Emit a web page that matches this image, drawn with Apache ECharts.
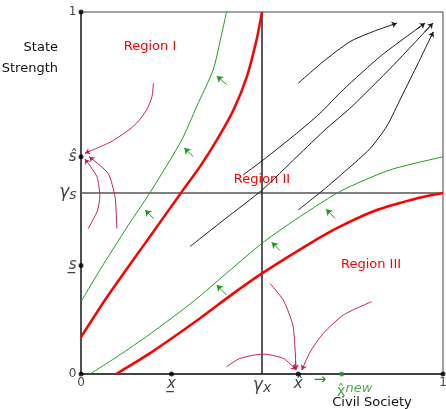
<!DOCTYPE html>
<html><head><meta charset="utf-8">
<script src="https://cdn.jsdelivr.net/npm/echarts@6/dist/echarts.min.js"></script>
<style>html,body{margin:0;padding:0;background:#fff}#c{width:446px;height:409px}</style>
</head><body><div id="c"></div>
<script>
// ---- data (unit square: x = civil society, y = state strength) ----
const redUpper = [[0,0.102],[0.07,0.21],[0.144,0.315],[0.19,0.379],[0.276,0.5],[0.33,0.575],[0.375,0.646],[0.421,0.729],[0.458,0.821],[0.485,0.923],[0.5,1]];
const redLower = [[0.097,0],[0.19,0.057],[0.329,0.154],[0.42,0.222],[0.5,0.278],[0.633,0.361],[0.715,0.407],[0.817,0.453],[0.927,0.485],[1,0.5]];
const greenUpper = [[0,0.2],[0.052,0.287],[0.13,0.41],[0.19,0.5],[0.278,0.646],[0.32,0.74],[0.365,0.84],[0.389,0.941],[0.402,1]];
const greenLower = [[0.025,0],[0.1,0.048],[0.19,0.11],[0.31,0.2],[0.412,0.287],[0.5,0.361],[0.577,0.416],[0.715,0.504],[0.854,0.564],[1,0.6]];
const blackA = [[0.6,0.803],[0.669,0.863],[0.743,0.918],[0.807,0.946],[0.872,0.969]];
const blackB = [[0.448,0.55],[0.503,0.591],[0.596,0.665],[0.66,0.72],[0.724,0.785],[0.83,0.88],[0.95,0.969]];
const blackC = [[0.301,0.352],[0.4,0.43],[0.5,0.508],[0.596,0.6],[0.679,0.679],[0.743,0.734],[0.86,0.85],[0.972,0.969]];
const blackD = [[0.6,0.453],[0.669,0.508],[0.734,0.564],[0.798,0.622],[0.845,0.685],[0.885,0.765],[0.932,0.86],[0.973,0.945]];
const purple1 = [[0.2,0.803],[0.196,0.766],[0.181,0.729],[0.153,0.692],[0.125,0.669],[0.08,0.64],[0.011,0.61]];
const purple2 = [[0.02,0.402],[0.045,0.45],[0.052,0.49],[0.044,0.545],[0.011,0.594]];
const purple3 = [[0.099,0.402],[0.097,0.45],[0.094,0.49],[0.075,0.554],[0.023,0.6]];
const purple4 = [[0.522,0.25],[0.559,0.204],[0.586,0.131],[0.594,0.012]];
const purple5 = [[0.402,0.02],[0.439,0.043],[0.503,0.055],[0.559,0.043],[0.594,0.012]];
const purple6 = [[0.803,0.2],[0.725,0.163],[0.669,0.112],[0.633,0.061],[0.61,0.011]];
const greenArrows = [[0.402,0.8,0.375,0.823],[0.31,0.601,0.285,0.624],[0.2,0.43,0.177,0.453],[0.402,0.218,0.375,0.246],[0.55,0.341,0.527,0.364],[0.702,0.43,0.677,0.455]];
const gammaX = 0.5, gammaS = 0.5;
const yTickValues = [1, 0.6, 0.5, 0.3, 0];
const yTickTexts  = ['1', '\u015D', '{g|\u03B3}{s|s}', 's\u0332', '0'];
const xTickValues = [0, 0.25, 0.5, 0.6, 1];
const xTickTexts  = ['0', 'x\u0332', '{g|\u03B3}{s|x}', 'x\u0302', '1'];
const dotYValues = [1, 0.6, 0.3, 0];
const dotXValues = [0.25, 0.6, 1];
const xNewValue = 0.72;

// ---- styling ----
const FONT = 'DejaVu Sans';
const RED = '#ff0000', GREEN = '#1f9a1f', BLACK = '#1a1a1a', PURPLE = '#c81d5c';
const rich = {
  g: {fontFamily: FONT, fontSize: 17, fontStyle: 'italic', color: '#111'},
  s: {fontFamily: FONT, fontSize: 14, fontStyle: 'italic', color: '#111', padding: [5,0,0,0]}
};
function endArrow(pts) {
  const p = pts[pts.length-1], q = pts[pts.length-2];
  const a = [p[0] - 0.2*(p[0]-q[0]), p[1] - 0.2*(p[1]-q[1])];
  return [{coord: a}, {coord: p}];
}
function curve(pts, color, width, arrow, z) {
  const s = {
    type: 'line', data: pts, smooth: 0.22, showSymbol: false, symbol: 'none',
    lineStyle: {color: color, width: width}, silent: true, animation: false, z: z || 3
  };
  if (arrow) {
    s.markLine = {
      silent: true, animation: false, symbol: ['none','arrow'], symbolSize: 5,
      label: {show: false}, lineStyle: {color: color, width: width, type: 'solid'},
      data: [endArrow(pts)]
    };
  }
  return s;
}
function labelItem(v, txt, pos) {
  const small = txt === '0' || txt === '1';
  return {
    value: v,
    label: {
      show: true, position: pos, distance: pos === 'left' ? 4 : 2,
      formatter: txt, rich: rich, fontFamily: FONT,
      fontSize: small ? 12 : 15, fontStyle: small ? 'normal' : 'italic', color: '#111'
    }
  };
}

const series = [
  {type:'line', data:[[0,gammaS],[1,gammaS]], showSymbol:false, lineStyle:{color:'#555',width:1.5}, silent:true, animation:false, z:2},
  {type:'line', data:[[gammaX,0],[gammaX,1]], showSymbol:false, lineStyle:{color:'#222',width:1.5}, silent:true, animation:false, z:2},
  curve(redUpper, RED, 2.5, false, 4),
  curve(redLower, RED, 2.5, false, 4),
  curve(greenUpper, GREEN, 1, false),
  curve(greenLower, GREEN, 1, false),
  curve(blackA, BLACK, 1, true),
  curve(blackB, BLACK, 1, true),
  curve(blackC, BLACK, 1, true),
  curve(blackD, BLACK, 1, true),
  curve(purple1, PURPLE, 1, true),
  curve(purple2, PURPLE, 1, true),
  curve(purple3, PURPLE, 1, true),
  curve(purple4, PURPLE, 1, true),
  curve(purple5, PURPLE, 1, true),
  curve(purple6, PURPLE, 1, true),
  {
    type:'line', data:[], silent:true, animation:false,
    markLine:{silent:true, animation:false, symbol:['none','arrow'], symbolSize:6, label:{show:false},
      lineStyle:{color:GREEN, width:1, type:'solid'},
      data: greenArrows.map(a => [{coord:[a[0],a[1]]},{coord:[a[2],a[3]]}])}
  },
  {
    type:'scatter', symbolSize:5, itemStyle:{color:'#000'}, silent:true, animation:false, z:6,
    data: dotYValues.map(v => [0, v]).concat(dotXValues.map(v => [v, 0]))
  },
  {
    type:'scatter', symbolSize:5, itemStyle:{color:GREEN}, silent:true, animation:false, z:6,
    data: [{value:[xNewValue,0], label:{show:true, position:'bottom', align:'left', offset:[-5,-3],
      formatter:'{x|x\u0302}{n|new}',
      rich:{x:{fontFamily:FONT,fontSize:15,color:GREEN,padding:[6,0,0,0]}, n:{fontFamily:FONT,fontSize:13,fontStyle:'italic',color:GREEN}}}}]
  },
  {
    type:'scatter', symbolSize:1, itemStyle:{color:'rgba(0,0,0,0)'}, silent:true, animation:false, z:7,
    data: yTickValues.map((v,i) => labelItem([0, v], yTickTexts[i], 'left'))
      .concat(xTickValues.map((v,i) => labelItem([v, 0], xTickTexts[i], 'bottom')))
  }
];

const chart = echarts.init(document.getElementById('c'), null, {renderer:'canvas'});
chart.setOption({
  animation: false,
  backgroundColor: '#fff',
  grid: {left:81, right:3, top:12, bottom:35, show:true, borderColor:'#444', borderWidth:1, containLabel:false},
  xAxis: {type:'value', min:0, max:1, axisLine:{show:true, onZero:false, lineStyle:{color:'#222', width:1.5}},
    axisTick:{show:false}, axisLabel:{show:false}, splitLine:{show:false}},
  yAxis: {type:'value', min:0, max:1, axisLine:{show:true, onZero:false, lineStyle:{color:'#333', width:1.5}},
    axisTick:{show:false}, axisLabel:{show:false}, splitLine:{show:false}},
  graphic: [
    {type:'text', x:58, y:48, style:{text:'State', fill:'#111', font:'13px "DejaVu Sans"', align:'right', verticalAlign:'middle'}},
    {type:'text', x:58, y:69, style:{text:'Strength', fill:'#111', font:'13px "DejaVu Sans"', align:'right', verticalAlign:'middle'}},
    {type:'text', x:372, y:403, style:{text:'Civil Society', fill:'#111', font:'13px "DejaVu Sans"', align:'center', verticalAlign:'middle'}},
    {type:'text', x:150, y:47, style:{text:'Region I', fill:RED, font:'13px "DejaVu Sans"', align:'center', verticalAlign:'middle'}},
    {type:'text', x:262, y:180, style:{text:'Region II', fill:RED, font:'13px "DejaVu Sans"', align:'center', verticalAlign:'middle'}},
    {type:'text', x:371, y:265, style:{text:'Region III', fill:RED, font:'13px "DejaVu Sans"', align:'center', verticalAlign:'middle'}},
    {type:'text', x:320, y:380, style:{text:'\u2192', fill:GREEN, font:'15px "DejaVu Sans"', align:'center', verticalAlign:'middle'}}
  ],
  series: series
});
</script></body></html>
